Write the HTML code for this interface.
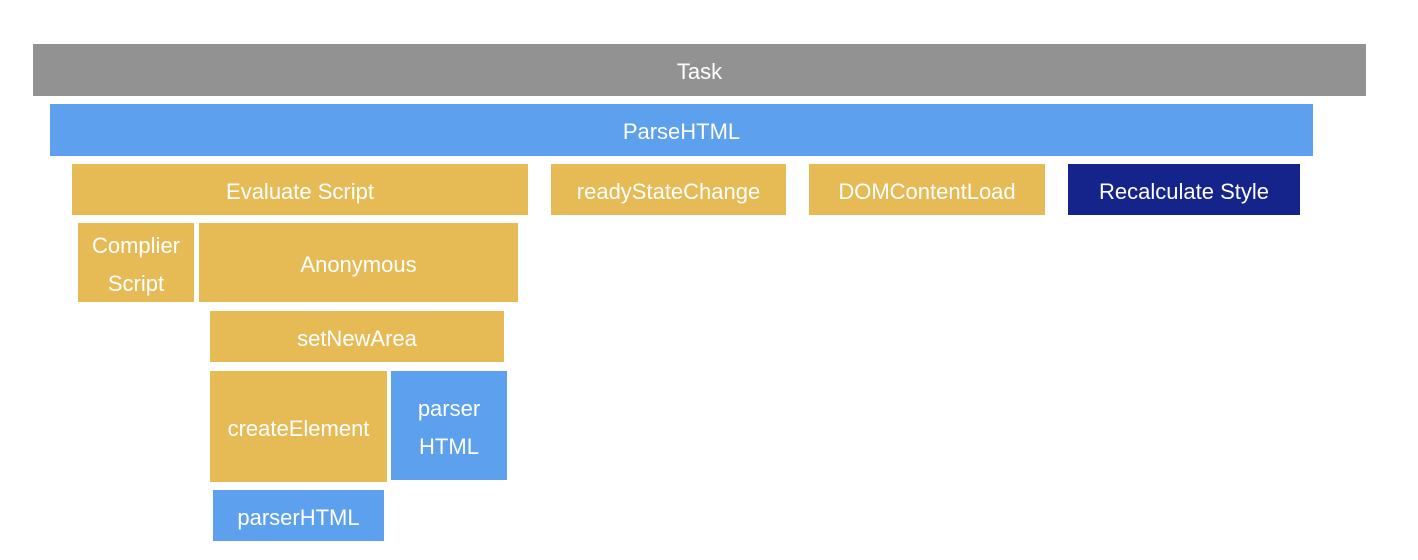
<!DOCTYPE html>
<html><head><style>
body{margin:0;width:1418px;height:560px;background:#fff;position:relative;overflow:hidden;font-family:"Liberation Sans",sans-serif;}
.b{position:absolute;box-sizing:border-box;padding-top:4px;display:flex;align-items:center;justify-content:center;text-align:center;color:#fff;font-size:22px;line-height:38px;}
.g{background:#929292}.bl{background:#5ca0ee}.y{background:#e6bb55}.n{background:#14248a}
</style></head><body>
<div class="b g" style="left:33px;top:44px;width:1333px;height:52px">Task</div>
<div class="b bl" style="left:50px;top:104px;width:1263px;height:52px">ParseHTML</div>
<div class="b y" style="left:72px;top:164px;width:456px;height:51px">Evaluate Script</div>
<div class="b y" style="left:551px;top:164px;width:235px;height:51px">readyStateChange</div>
<div class="b y" style="left:809px;top:164px;width:236px;height:51px">DOMContentLoad</div>
<div class="b n" style="left:1068px;top:164px;width:232px;height:51px">Recalculate Style</div>
<div class="b y" style="left:78px;top:223px;width:116px;height:79px">Complier<br>Script</div>
<div class="b y" style="left:199px;top:223px;width:319px;height:79px">Anonymous</div>
<div class="b y" style="left:210px;top:311px;width:294px;height:51px">setNewArea</div>
<div class="b y" style="left:210px;top:371px;width:177px;height:111px">createElement</div>
<div class="b bl" style="left:391px;top:371px;width:116px;height:109px">parser<br>HTML</div>
<div class="b bl" style="left:213px;top:490px;width:171px;height:51px">parserHTML</div>
</body></html>
